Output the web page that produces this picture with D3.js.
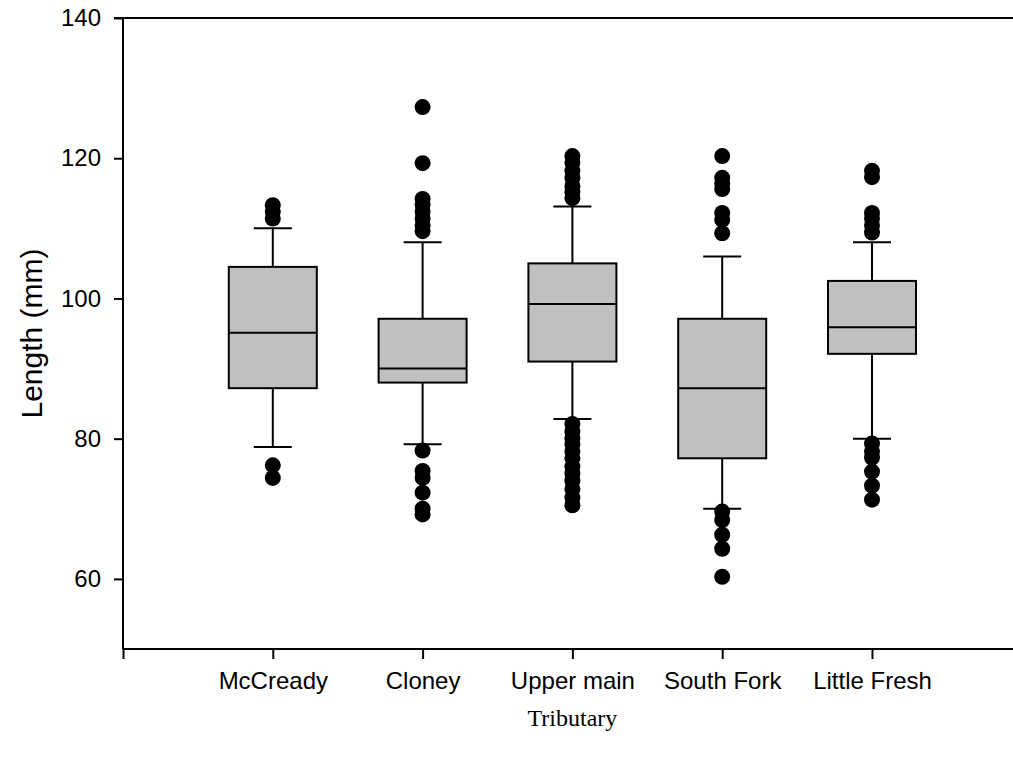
<!DOCTYPE html>
<html><head><meta charset="utf-8">
<script src="https://cdn.jsdelivr.net/npm/d3@7"></script>
<style>body{margin:0;background:#fff}</style>
</head><body>
<svg id="c" width="1013" height="761"></svg>
<script>
const categories = ["McCready","Cloney","Upper main","South Fork","Little Fresh"];
const lowerWhisker = [78.8, 79.2, 82.8, 70.0, 80.0];
const q1 =           [87.2, 88.0, 91.0, 77.2, 92.1];
const median =       [95.1, 90.0, 99.2, 87.2, 95.9];
const q3 =           [104.5, 97.1, 105.0, 97.1, 102.5];
const upperWhisker = [110.0, 108.0, 113.1, 106.0, 108.0];
const outliers = [
  [113.3, 112.4, 111.4, 76.2, 74.4],
  [127.3, 119.3, 114.2, 113.4, 112.4, 111.4, 110.4, 109.6, 78.3, 75.4, 74.4, 72.3, 70.0, 69.2],
  [120.3, 119.4, 118.2, 117.2, 116.0, 115.2, 114.3, 82.1, 81.0, 80.0, 79.2, 78.2, 77.2, 76.0, 75.0, 74.0, 72.8, 71.6, 70.5],
  [120.3, 117.2, 116.4, 115.6, 112.2, 111.2, 109.3, 69.6, 68.4, 66.3, 64.3, 60.3],
  [118.2, 117.3, 112.2, 111.4, 110.4, 109.4, 79.3, 78.2, 77.3, 75.3, 73.3, 71.3]
];
const yTicks = [60, 80, 100, 120, 140];

const svg = d3.select("#c");
const x0 = 123, yTop = 18, yBot = 649;
const y = d3.scaleLinear().domain([50,140]).range([yBot, yTop]);
const x = d3.scaleLinear().domain([0,6]).range([x0, x0 + 6*149.8]);
const boxW = 88, capW = 38;
const sans = "Liberation Sans, Arial, sans-serif";

// axes
const yAxis = d3.axisLeft(y).tickValues(yTicks).tickSize(9).tickPadding(13).tickFormat(d3.format("d"));
const gy = svg.append("g").attr("transform",`translate(${x0},0)`).call(yAxis);
gy.select(".domain").attr("stroke","#000").attr("stroke-width",2).attr("d",`M-9,${yTop}H0V${yBot}`);
gy.selectAll(".tick line").attr("stroke","#000").attr("stroke-width",2);
gy.selectAll(".tick text").attr("font-family",sans).attr("font-size",24).attr("fill","#000");

const xAxis = d3.axisBottom(x).tickValues([0,1,2,3,4,5,6]).tickSize(10).tickPadding(13)
  .tickFormat(d => (d>=1 && d<=5) ? categories[d-1] : "");
const gx = svg.append("g").attr("transform",`translate(0,${yBot})`).call(xAxis);
gx.select(".domain").attr("stroke","#000").attr("stroke-width",2).attr("d",`M${x0},0H1013`);
gx.selectAll(".tick line").attr("stroke","#000").attr("stroke-width",2);
gx.selectAll(".tick text").attr("font-family",sans).attr("font-size",24).attr("fill","#000");

// top frame line
svg.append("line").attr("x1",x0).attr("x2",1013).attr("y1",yTop).attr("y2",yTop).attr("stroke","#000").attr("stroke-width",2);

// boxes
const g = svg.append("g");
categories.forEach((c,i) => {
  const cx = x(i+1);
  const line = (x1,y1,x2,y2) => g.append("line").attr("x1",x1).attr("y1",y1).attr("x2",x2).attr("y2",y2).attr("stroke","#000").attr("stroke-width",2);
  line(cx, y(upperWhisker[i]), cx, y(q3[i]));
  line(cx, y(q1[i]), cx, y(lowerWhisker[i]));
  line(cx-capW/2, y(upperWhisker[i]), cx+capW/2, y(upperWhisker[i]));
  line(cx-capW/2, y(lowerWhisker[i]), cx+capW/2, y(lowerWhisker[i]));
  g.append("rect").attr("x",cx-boxW/2).attr("y",y(q3[i])).attr("width",boxW).attr("height",y(q1[i])-y(q3[i]))
    .attr("fill","#c0c0c0").attr("stroke","#000").attr("stroke-width",2);
  line(cx-boxW/2, y(median[i]), cx+boxW/2, y(median[i]));
  outliers[i].forEach(v => g.append("circle").attr("cx",cx).attr("cy",y(v)).attr("r",8).attr("fill","#000"));
});

// axis titles
svg.append("text").attr("transform",`translate(42,${(yTop+yBot)/2}) rotate(-90)`).attr("text-anchor","middle")
  .attr("font-family",sans).attr("font-size",30).text("Length (mm)");
svg.append("text").attr("x",(x(1)+x(5))/2).attr("y",726).attr("text-anchor","middle")
  .attr("font-family","Liberation Serif, Times New Roman, serif").attr("font-size",24).text("Tributary");
</script>
</body></html>
